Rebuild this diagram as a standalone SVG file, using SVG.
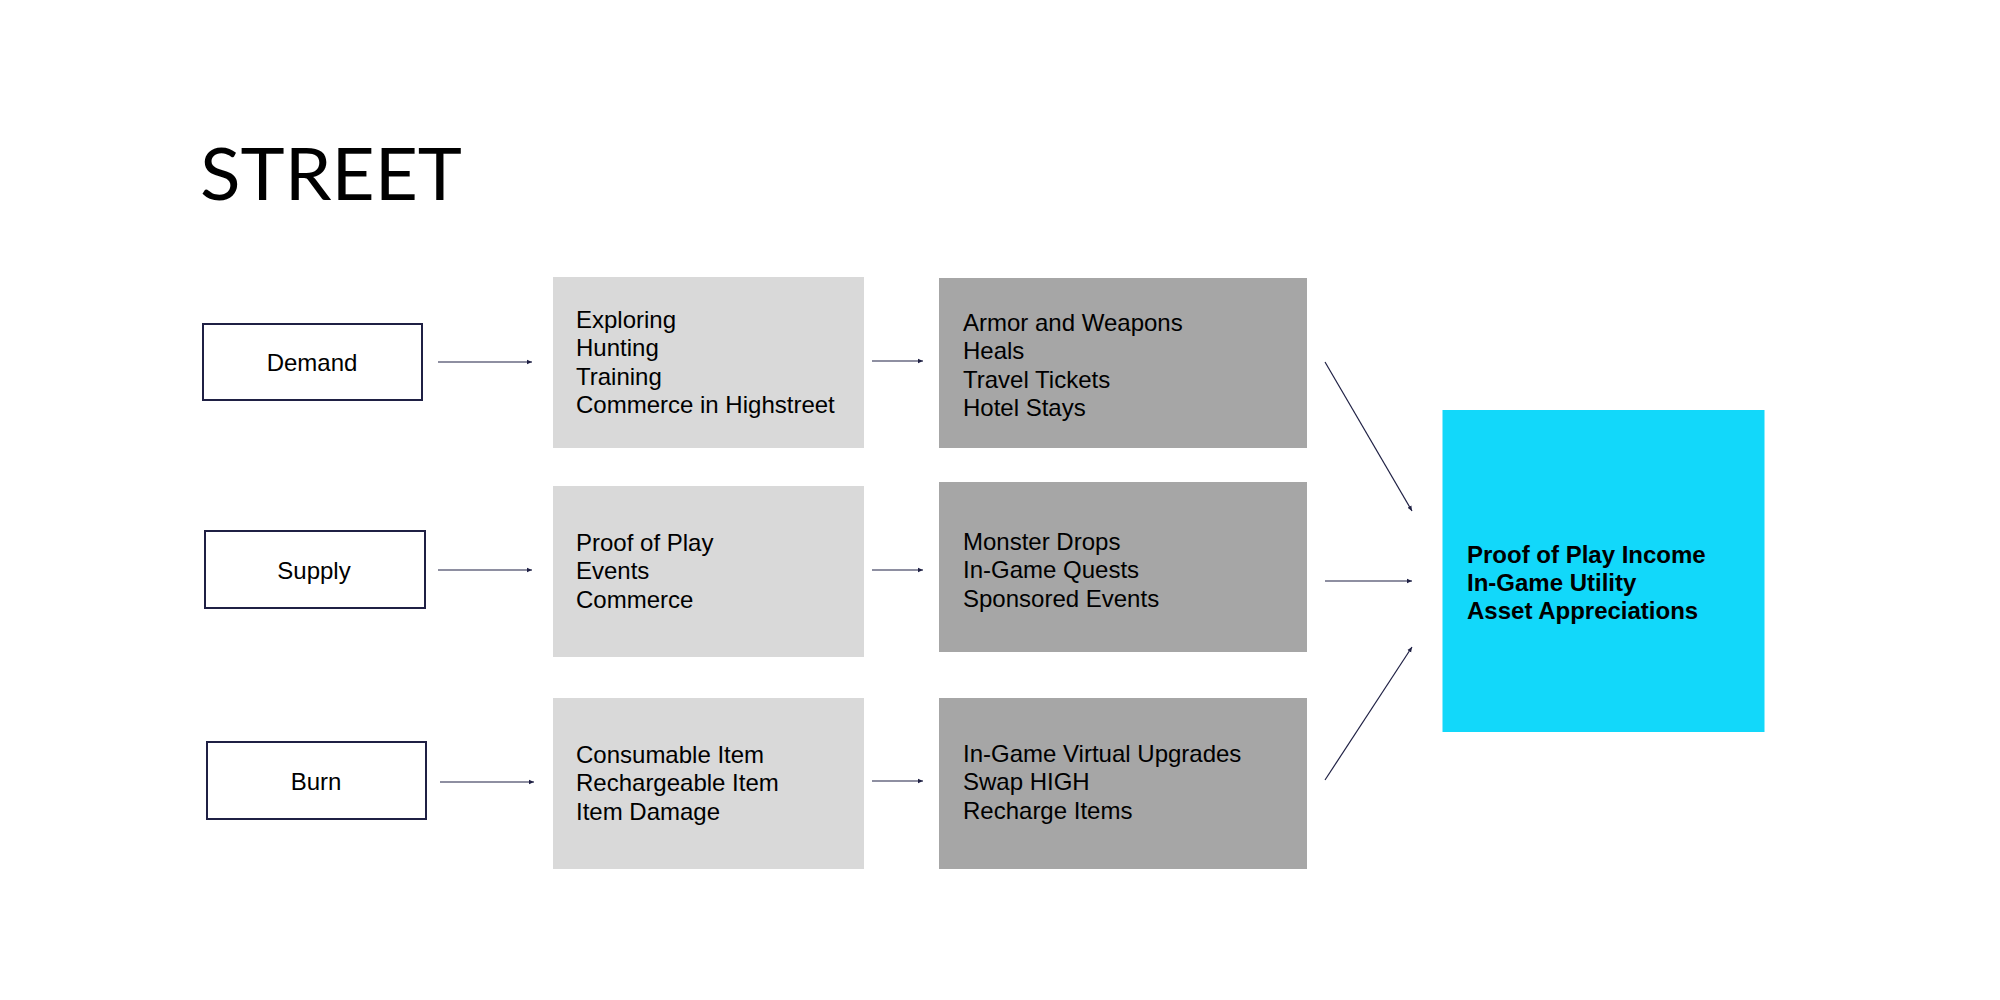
<svg xmlns="http://www.w3.org/2000/svg" width="2000" height="1000" viewBox="0 0 2000 1000">
<style>
.t{font-family:"Liberation Sans",Arial,sans-serif;font-size:24px;fill:#000}
.b{font-family:"Liberation Sans",Arial,sans-serif;font-size:24px;font-weight:bold;fill:#000}
.lbl{font-family:"Liberation Sans",Arial,sans-serif;font-size:24px;fill:#000;text-anchor:middle}
.kind{fill:#fff;stroke:#1f2044;stroke-width:2}
.light{fill:#d9d9d9}
.dark{fill:#a6a6a6}
.cn{stroke:#1f2044;stroke-width:1.2;fill:none;marker-end:url(#ah)}
</style>
<defs>
<marker id="ah" markerUnits="userSpaceOnUse" markerWidth="6" markerHeight="6" refX="5" refY="3" orient="auto">
<path d="M0,0.8 L5,3 L0,5.2 Z" fill="#1f2044"/>
</marker>
</defs>
<rect width="2000" height="1000" fill="#fff"/>
<text x="200" y="200" font-family="Lato,'Liberation Sans',sans-serif" font-weight="400" font-size="72" textLength="262" lengthAdjust="spacingAndGlyphs" fill="#000">STREET</text>

<g id="demand"><rect class="kind" x="203" y="324" width="219" height="76"/><text class="lbl" x="312" y="371">Demand</text></g>
<g id="supply"><rect class="kind" x="205" y="531" width="220" height="77"/><text class="lbl" x="314" y="579">Supply</text></g>
<g id="burn"><rect class="kind" x="207" y="742" width="219" height="77"/><text class="lbl" x="316" y="790">Burn</text></g>

<g id="activities-demand"><rect class="light" x="553" y="277" width="311" height="171"/>
<text class="t" x="576" y="328">Exploring</text><text class="t" x="576" y="356.3">Hunting</text><text class="t" x="576" y="384.6">Training</text><text class="t" x="576" y="412.9">Commerce in Highstreet</text></g>
<g id="activities-supply"><rect class="light" x="553" y="486" width="311" height="171"/>
<text class="t" x="576" y="551">Proof of Play</text><text class="t" x="576" y="579.3">Events</text><text class="t" x="576" y="607.6">Commerce</text></g>
<g id="activities-burn"><rect class="light" x="553" y="698" width="311" height="171"/>
<text class="t" x="576" y="763">Consumable Item</text><text class="t" x="576" y="791.3">Rechargeable Item</text><text class="t" x="576" y="819.6">Item Damage</text></g>

<g id="items-demand"><rect class="dark" x="939" y="278" width="368" height="170"/>
<text class="t" x="963" y="331">Armor and Weapons</text><text class="t" x="963" y="359.3">Heals</text><text class="t" x="963" y="387.6">Travel Tickets</text><text class="t" x="963" y="415.9">Hotel Stays</text></g>
<g id="items-supply"><rect class="dark" x="939" y="482" width="368" height="170"/>
<text class="t" x="963" y="550">Monster Drops</text><text class="t" x="963" y="578.3">In-Game Quests</text><text class="t" x="963" y="606.6">Sponsored Events</text></g>
<g id="items-burn"><rect class="dark" x="939" y="698" width="368" height="171"/>
<text class="t" x="963" y="762">In-Game Virtual Upgrades</text><text class="t" x="963" y="790.3">Swap HIGH</text><text class="t" x="963" y="818.6">Recharge Items</text></g>

<g id="outcome"><rect x="1442.5" y="410" width="322" height="322" fill="#12d8fa"/>
<text class="b" x="1467" y="563">Proof of Play Income</text><text class="b" x="1467" y="591">In-Game Utility</text><text class="b" x="1467" y="619">Asset Appreciations</text></g>

<g id="connectors">
<line class="cn" x1="438" y1="362" x2="532" y2="362"/>
<line class="cn" x1="438" y1="570" x2="532" y2="570"/>
<line class="cn" x1="440" y1="782" x2="534" y2="782"/>
<line class="cn" x1="872" y1="361" x2="923" y2="361"/>
<line class="cn" x1="872" y1="570" x2="923" y2="570"/>
<line class="cn" x1="872" y1="781" x2="923" y2="781"/>
<line class="cn" x1="1325" y1="362" x2="1412" y2="511"/>
<line class="cn" x1="1325" y1="581" x2="1412" y2="581"/>
<line class="cn" x1="1325" y1="780" x2="1412" y2="647"/>
</g>
</svg>
